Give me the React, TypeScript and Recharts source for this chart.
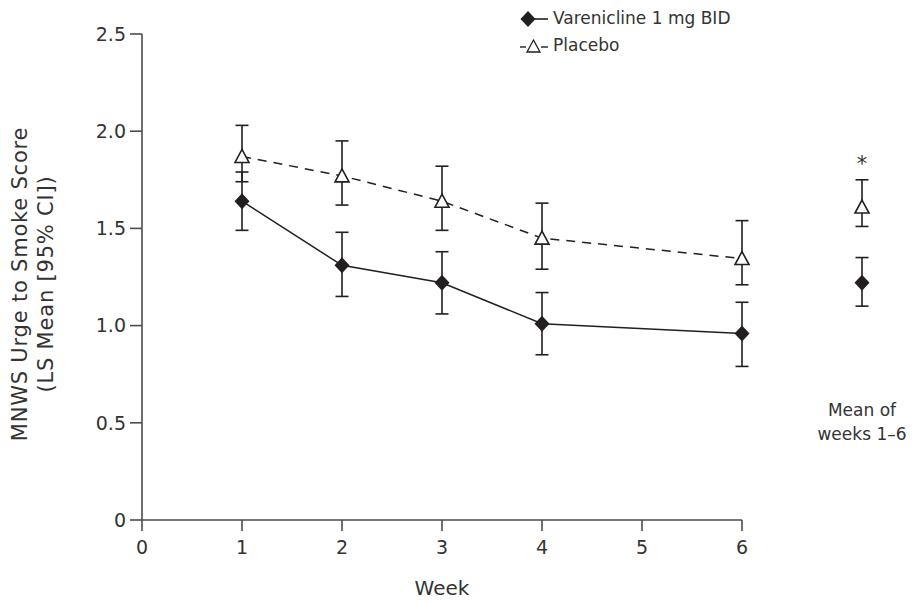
import React from 'react';
import {
  ComposedChart,
  Line,
  XAxis,
  YAxis,
  ErrorBar,
  Legend,
  LabelList,
  ReferenceLine,
} from 'recharts';

// weekly LS means with 95% CI
const weeks = [1, 2, 3, 4, 6];
const vareniclineMean = [1.64, 1.31, 1.22, 1.01, 0.96];
const vareniclineLow = [1.49, 1.15, 1.06, 0.85, 0.79];
const vareniclineHigh = [1.79, 1.48, 1.38, 1.17, 1.12];
const placeboMean = [1.87, 1.77, 1.64, 1.45, 1.345];
const placeboLow = [1.74, 1.62, 1.49, 1.29, 1.21];
const placeboHigh = [2.03, 1.95, 1.82, 1.63, 1.54];

// mean of weeks 1-6, drawn in its own column right of the axis
const meanColumn = 7.2;
const vareniclineOverall = [1.22, 1.1, 1.35];
const placeboOverall = [1.61, 1.51, 1.75];

const xTicks = [0, 1, 2, 3, 4, 5, 6];
const yTicks = [0, 0.5, 1, 1.5, 2, 2.5];

const INK = '#231f20';
const AXIS = '#4d4d4d';
const TEXT = '#333';
const FONT = "'DejaVu Sans', sans-serif";

type Pt = { week: number; mean: number; err: [number, number] };

function toRows(mean: number[], low: number[], high: number[]): Pt[] {
  return weeks.map((w, i) => ({
    week: w,
    mean: mean[i],
    err: [mean[i] - low[i], high[i] - mean[i]],
  }));
}

function overallRow(v: number[]): Pt[] {
  return [{ week: meanColumn, mean: v[0], err: [v[0] - v[1], v[2] - v[0]] }];
}

const vareniclineRows = toRows(vareniclineMean, vareniclineLow, vareniclineHigh);
const placeboRows = toRows(placeboMean, placeboLow, placeboHigh);

const Diamond = (props: any) => {
  const { cx, cy } = props;
  if (cx == null || cy == null) return null;
  return (
    <path
      d={`M${cx},${cy - 8} L${cx + 7.5},${cy} L${cx},${cy + 8} L${cx - 7.5},${cy} Z`}
      fill={INK}
    />
  );
};

const Triangle = (props: any) => {
  const { cx, cy } = props;
  if (cx == null || cy == null) return null;
  return (
    <path
      d={`M${cx},${cy - 7} L${cx + 7},${cy + 6} L${cx - 7},${cy + 6} Z`}
      fill="#fff"
      stroke={INK}
      strokeWidth={1.6}
    />
  );
};

const LegendBox = () => (
  <div style={{ fontFamily: FONT, fontSize: 17, color: TEXT, lineHeight: '27px' }}>
    <div style={{ display: 'flex', alignItems: 'center' }}>
      <svg width={32} height={20}>
        <line x1={2} y1={10} x2={29} y2={10} stroke={INK} strokeWidth={1.6} />
        <path d="M9,2 L16.5,10 L9,18 L1.5,10 Z" fill={INK} />
      </svg>
      <span style={{ marginLeft: 2 }}>Varenicline 1 mg BID</span>
    </div>
    <div style={{ display: 'flex', alignItems: 'center' }}>
      <svg width={32} height={20}>
        <line x1={1} y1={11} x2={7} y2={11} stroke={INK} strokeWidth={1.4} />
        <line x1={22} y1={11} x2={29} y2={11} stroke={INK} strokeWidth={1.4} />
        <path d="M14.5,4 L21,16 L8,16 Z" fill="#fff" stroke={INK} strokeWidth={1.3} />
      </svg>
      <span style={{ marginLeft: 2 }}>Placebo</span>
    </div>
  </div>
);

const YLabel = () => {
  const cy = 284;
  return (
    <g fontFamily={FONT} fontSize={21} fill={TEXT} letterSpacing={0.8}>
      <text x={20} y={cy} transform={`rotate(-90, 20, ${cy})`} textAnchor="middle" dominantBaseline="central">
        MNWS Urge to Smoke Score
      </text>
      <text x={46} y={cy} transform={`rotate(-90, 46, ${cy})`} textAnchor="middle" dominantBaseline="central">
        (LS Mean [95% CI])
      </text>
    </g>
  );
};

export default function App() {
  return (
    <div style={{ position: 'absolute', left: 0, top: 0, width: 912, height: 603, background: '#fff' }}>
      <style>{'body{margin:0}'}</style>
      <ComposedChart width={912} height={603} margin={{ top: 34, right: 10, bottom: 0, left: 0 }}>
        <XAxis
          type="number"
          dataKey="week"
          domain={[0, 7.6]}
          ticks={xTicks}
          interval={0}
          height={83}
          axisLine={false}
          tickSize={11}
          tickMargin={10}
          tickLine={{ stroke: AXIS, strokeWidth: 1.6 }}
          tick={{ fill: TEXT, fontSize: 19, fontFamily: FONT }}
          allowDataOverflow
        />
        <YAxis
          type="number"
          domain={[0, 2.5]}
          ticks={yTicks}
          width={142}
          tickSize={12}
          tickMargin={4}
          axisLine={{ stroke: AXIS, strokeWidth: 1.6 }}
          tickLine={{ stroke: AXIS, strokeWidth: 1.6 }}
          tick={{ fill: TEXT, fontSize: 19, fontFamily: FONT }}
          tickFormatter={(v: number) => (v === 0 ? '0' : v.toFixed(1))}
          label={<YLabel />}
        />
        <ReferenceLine
          segment={[{ x: 0, y: 0 }, { x: 6, y: 0 }]}
          stroke={AXIS}
          strokeWidth={1.6}
        />
        <Legend
          verticalAlign="middle"
          align="center"
          layout="horizontal"
          content={<LegendBox />}
          wrapperStyle={{ position: 'absolute', top: 5, left: 519, width: 280 }}
        />

        <Line
          data={placeboRows}
          dataKey="mean"
          name="Placebo"
          stroke={INK}
          strokeWidth={1.5}
          strokeDasharray="9 7"
          dot={<Triangle />}
          activeDot={false}
          isAnimationActive={false}
        >
          <ErrorBar dataKey="err" width={6.5} stroke={INK} strokeWidth={1.6} direction="y" />
        </Line>
        <Line
          data={vareniclineRows}
          dataKey="mean"
          name="Varenicline 1 mg BID"
          stroke={INK}
          strokeWidth={1.5}
          dot={<Diamond />}
          activeDot={false}
          isAnimationActive={false}
        >
          <ErrorBar dataKey="err" width={6.5} stroke={INK} strokeWidth={1.6} direction="y" />
        </Line>

        <Line
          data={overallRow(placeboOverall)}
          dataKey="mean"
          stroke="none"
          dot={<Triangle />}
          activeDot={false}
          legendType="none"
          isAnimationActive={false}
        >
          <ErrorBar dataKey="err" width={6.5} stroke={INK} strokeWidth={1.6} direction="y" />
          <LabelList
            dataKey="mean"
            content={(p: any) => (
              <text x={p.x} y={p.y - 36} textAnchor="middle" fontSize={21} fontFamily={FONT} fill={TEXT}>
                *
              </text>
            )}
          />
        </Line>
        <Line
          data={overallRow(vareniclineOverall)}
          dataKey="mean"
          stroke="none"
          dot={<Diamond />}
          activeDot={false}
          legendType="none"
          isAnimationActive={false}
        >
          <ErrorBar dataKey="err" width={6.5} stroke={INK} strokeWidth={1.6} direction="y" />
        </Line>
      </ComposedChart>

      <div
        style={{
          position: 'absolute',
          left: 802,
          top: 398,
          width: 120,
          textAlign: 'center',
          fontFamily: FONT,
          fontSize: 17,
          lineHeight: '24px',
          color: TEXT,
        }}
      >
        Mean of
        <br />
        weeks 1–6
      </div>
      <div
        style={{
          position: 'absolute',
          left: 382,
          top: 576,
          width: 120,
          textAlign: 'center',
          fontFamily: FONT,
          fontSize: 20,
          color: TEXT,
        }}
      >
        Week
      </div>
    </div>
  );
}
